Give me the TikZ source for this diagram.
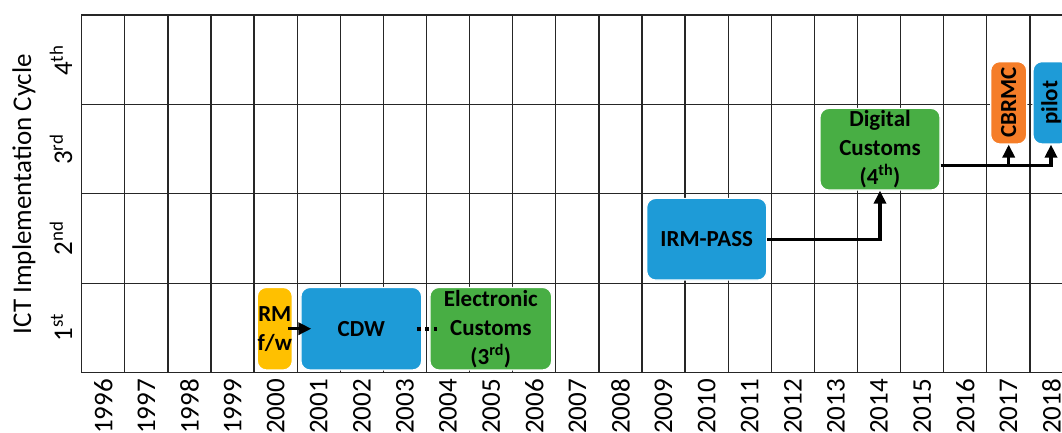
\documentclass[tikz,border=0pt]{standalone}
\usepackage{fontspec}
\setmainfont{Carlito}
\usetikzlibrary{arrows.meta}
\definecolor{gridline}{HTML}{262626}
\definecolor{boxgold}{HTML}{FFC000}
\definecolor{boxblue}{HTML}{1E9BD7}
\definecolor{boxgreen}{HTML}{48AE44}
\definecolor{boxorange}{HTML}{F57D28}
\begin{document}
\begin{tikzpicture}[x=1pt,y=-1pt,
  gridl/.style={draw=gridline, line width=1.3pt},
  phase/.style={rounded corners=9pt, draw=white, line width=1.2pt, text=black,
    font=\fontsize{23}{29}\selectfont\bfseries, align=center, inner sep=0pt},
  arr/.style={line width=3.4pt, -{Triangle[length=13pt,width=12pt]}},
  year/.style={rotate=90, anchor=east, inner sep=0pt, font=\fontsize{27}{27}\selectfont},
  cycle/.style={rotate=90, anchor=base, inner sep=0pt, font=\fontsize{27}{27}\selectfont},
  axislabel/.style={rotate=90, anchor=base, inner sep=0pt, font=\fontsize{27}{27}\selectfont}]
\clip (0,0) rectangle (1062,432);
\fill[white] (0,0) rectangle (1062,432);

% year columns and cycle rows
\foreach \i in {0,...,22}
  \draw[gridl] ({81.7+43.1*\i},15) -- ({81.7+43.1*\i},372.6);
\foreach \j in {0,...,4}
  \draw[gridl] (81.0,{15+89.4*\j}) -- (1075,{15+89.4*\j});

% year labels
\foreach \i in {0,...,22}{
  \pgfmathtruncatemacro{\yr}{1996+\i}
  \node[year] (yr\i) at ({81.7+43.1*(\i+0.5)},379) {\yr};
}

% cycle labels
\node[cycle] (c4) at (72,60.5) {4\textsuperscript{th}};
\node[cycle] (c3) at (72,149.5) {3\textsuperscript{rd}};
\node[cycle] (c2) at (72,238.5) {2\textsuperscript{nd}};
\node[cycle] (c1) at (72,327.5) {1\textsuperscript{st}};
\node[axislabel] (axis) at (31,194) {ICT Implementation Cycle};

% phases
\node[phase, fill=boxgold, minimum width=35pt, minimum height=82.5pt] (rm) at (274.8,328.7) {RM\\f/w};
\node[phase, fill=boxblue, minimum width=120.7pt, minimum height=82.5pt] (cdw) at (361.3,328.7) {CDW};
\node[phase, fill=boxgreen, minimum width=121.7pt, minimum height=82.5pt] (ec) at (490.8,328.7) {Electronic\\Customs\\(3\textsuperscript{rd})};
\node[phase, fill=boxblue, minimum width=120pt, minimum height=81.7pt] (irm) at (706.7,239.2) {IRM-PASS};
\node[phase, fill=boxgreen, minimum width=120pt, minimum height=81.7pt] (dc) at (880,149.2) {Digital\\Customs\\(4\textsuperscript{th})};
\node[phase, fill=boxorange, rotate=90, minimum width=82.3pt, minimum height=36pt] (cbrmc) at (1008.7,102.8) {CBRMC};
\node[phase, fill=boxblue, rotate=90, minimum width=82.3pt, minimum height=36pt] (pilot) at (1051,102.8) {pilot};

% transitions
\draw[arr] ([xshift=-5pt]rm.east) -- ([xshift=11pt]cdw.west);
\draw[line width=4pt, dash pattern=on 4pt off 4.5pt] ([xshift=-5.5pt]cdw.east) -- ([xshift=7.5pt]ec.west);
\draw[arr] (irm.east) -| (dc.south);
\coordinate (dcout) at ([yshift=-16pt]dc.east);
\draw[arr] (dcout) -| (pilot.west);
\draw[arr] (dcout -| cbrmc.west) -- (cbrmc.west);
\end{tikzpicture}
\end{document}
